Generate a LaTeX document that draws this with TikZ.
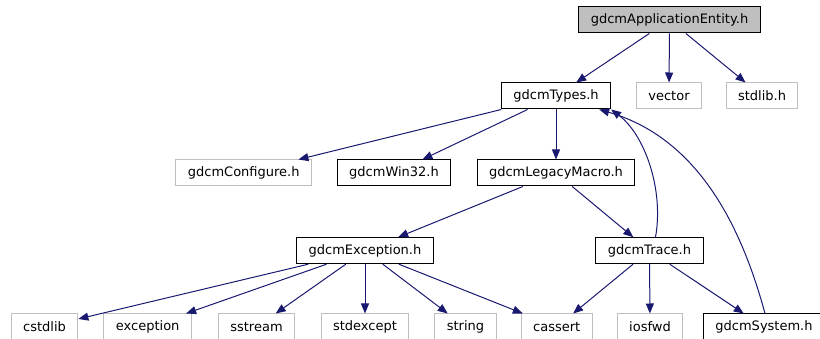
\documentclass[tikz,border=0pt]{standalone}
\usepackage{fontspec}
\setmainfont{DejaVu Sans}
\usepackage{xcolor}
\usetikzlibrary{arrows.meta,positioning}
\definecolor{edgeblue}{HTML}{191970}
\definecolor{lightgray}{HTML}{BFBFBF}

\begin{document}
\begin{tikzpicture}[
    x=1pt, y=-1pt,
    box/.style={draw=black, minimum height=26pt, inner xsep=12pt, inner ysep=0pt, font=\fontsize{13}{15}\selectfont, fill=white, line width=1pt},
    extbox/.style={box, draw=lightgray},
    rootbox/.style={box, fill=lightgray},
    arrow/.style={-{Triangle[length=10pt, width=8pt]}, line width=1pt, draw=edgeblue}
]
    \useasboundingbox (0,0) rectangle (820,339);

    % Top levels
    \node[rootbox] (appentity) at (669.5, 20) {gdcmApplicationEntity.h};
    \node[box] (types) at (556, 96) {gdcmTypes.h};
    \node[extbox] (vector) at (669, 96) {vector};
    \node[extbox] (stdlib) at (762, 96) {stdlib.h};

    \node[extbox] (configure) at (243.7, 173) {gdcmConfigure.h};
    \node[box] (win32) at (394, 173) {gdcmWin32.h};
    \node[box] (legacy) at (556, 173) {gdcmLegacyMacro.h};

    \node[box] (exception) at (365, 250.7) {gdcmException.h};
    \node[box] (trace) at (649.5, 250.7) {gdcmTrace.h};

    % Bottom row
    \node[extbox] (cstdlib) at (44.5, 327) {cstdlib};
    \node[extbox] (stdexc) at (147.7, 327) {exception};
    \node[extbox] (sstream) at (256.5, 327) {sstream};
    \node[extbox] (stdexcept) at (365, 327) {stdexcept};
    \node[extbox] (string) at (465.5, 327) {string};
    \node[extbox] (cassert) at (556.7, 327) {cassert};
    \node[extbox] (iosfwd) at (650, 327) {iosfwd};
    \node[box] (system) at (764, 327) {gdcmSystem.h};

    % Includes
    \draw[arrow] (appentity) -- (types);
    \draw[arrow] (appentity) -- (vector);
    \draw[arrow] (appentity) -- (stdlib);
    \draw[arrow] (types) -- (configure);
    \draw[arrow] (types) -- (win32);
    \draw[arrow] (types) -- (legacy);
    \draw[arrow] (legacy) -- (exception);
    \draw[arrow] (legacy) -- (trace);
    \foreach \dst in {cstdlib, stdexc, sstream, stdexcept, string, cassert}
        \draw[arrow] (exception) -- (\dst);
    \draw[arrow] (trace) -- (cassert);
    \draw[arrow] (trace) -- (iosfwd);
    \draw[arrow] (trace) -- (system);

    % Back edges
    \draw[arrow] (trace.north) ++(6,0) .. controls (664,190) and (645,135) .. (types.south east);
    \draw[arrow] (system.north) ++(1,0) .. controls (745,240) and (705,140) .. ([xshift=-12pt]types.south east);

\end{tikzpicture}
\end{document}
